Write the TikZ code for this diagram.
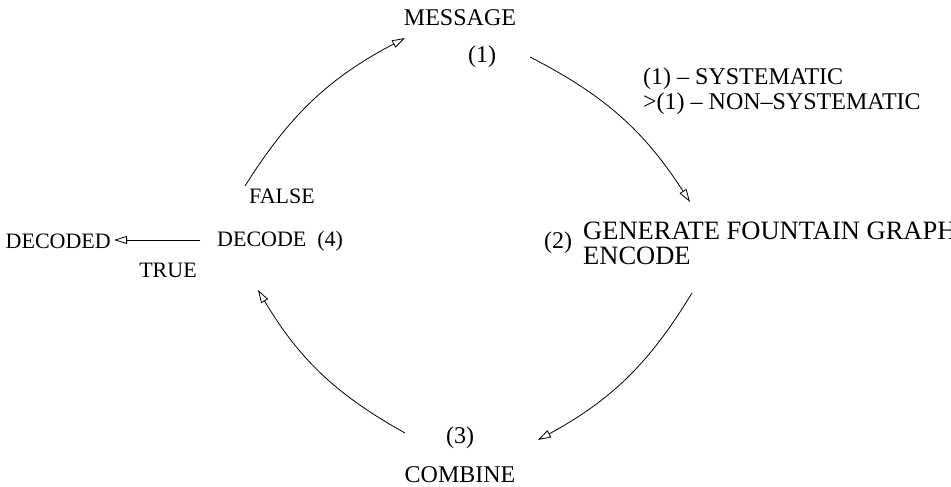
\documentclass[tikz,border=0pt]{standalone}
\usepackage{fontspec}
\setmainfont{Liberation Serif}
\usetikzlibrary{arrows.meta}
\tikzset{
  lbl/.style={inner sep=0pt, font=\fontsize{24}{25}\selectfont},
  small/.style={lbl, font=\fontsize{22}{24}\selectfont},
  big/.style={lbl, font=\fontsize{26.5}{25}\selectfont},
  flow/.style={line width=0.8pt, -{Triangle[open,length=13pt,width=8pt]}},
}
\begin{document}
\begin{tikzpicture}[x=1pt,y=1pt]
\useasboundingbox (0,0) rectangle (951,487);
% labels
\node[lbl] (msg) at (460,469) {MESSAGE};
\node[lbl] (one) at (482,430) {(1)};
\node[lbl, anchor=west, align=left] (sys) at (643,396) {(1) – SYSTEMATIC\\>(1) – NON–SYSTEMATIC};
\node[lbl] (two) at (558,244) {(2)};
\node[big, anchor=west, align=left] (gen) at (583,244) {GENERATE FOUNTAIN GRAPH\\ENCODE};
\node[lbl] (three) at (460,49) {(3)};
\node[lbl] (comb) at (460,12) {COMBINE};
\node[small, anchor=west] (dec) at (217,246) {DECODE\ \ (4)};
\node[small] (false) at (282,291) {FALSE};
\node[small] (true) at (168,217) {TRUE};
\node[small, anchor=east] (done) at (111,246) {DECODED};
% arc end points
\coordinate (a4s) at (245,301);
\coordinate (a4e) at (405,449);
\coordinate (a1s) at (530,430);
\coordinate (a1e) at (690,285);
\coordinate (a2s) at (692,194);
\coordinate (a2e) at (538,47);
\coordinate (a3s) at (405,54);
\coordinate (a3e) at (258,197);
\coordinate (ts) at (200,247);
\coordinate (te) at (114,247);
% cycle
\draw[flow] (a1s) to[bend left=15] (a1e);
\draw[flow] (a2s) to[bend left=15] (a2e);
\draw[flow] (a3s) to[bend left=15] (a3e);
\draw[flow] (a4s) to[bend left=15] (a4e);
\draw[flow] (ts) -- (te);
\end{tikzpicture}
\end{document}
